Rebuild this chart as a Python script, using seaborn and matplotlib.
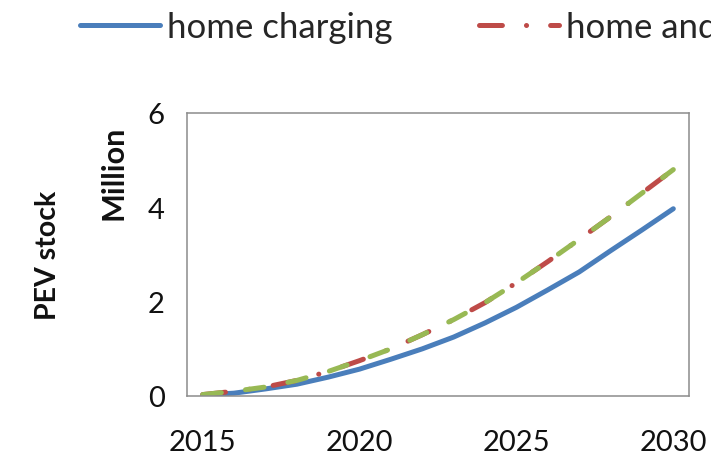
import matplotlib
matplotlib.use("Agg")
import matplotlib.pyplot as plt
import seaborn as sns
import pandas as pd

years = list(range(2015, 2031))
home = [0.02, 0.06, 0.15, 0.25, 0.40, 0.57, 0.78, 1.00, 1.25, 1.55, 1.88, 2.25, 2.63, 3.08, 3.52, 3.97]
home_work = [0.03, 0.10, 0.19, 0.33, 0.52, 0.75, 1.00, 1.30, 1.62, 1.98, 2.40, 2.85, 3.32, 3.80, 4.30, 4.80]
home_work_public = [0.03, 0.10, 0.19, 0.33, 0.52, 0.75, 1.00, 1.30, 1.62, 1.98, 2.40, 2.85, 3.32, 3.80, 4.30, 4.80]
labels = ["home charging", "home and work charging", "home, work and public charging"]
colors = ["#4A7EBB", "#BE4B48", "#98B954"]
yticks = [0, 2, 4, 6]
xticks = [2015, 2020, 2025, 2030]

sns.set_theme(style="white")
plt.rcParams["font.family"] = ["Lato", "DejaVu Sans"]
plt.rcParams["lines.scale_dashes"] = False

fig = plt.figure(figsize=(7.11, 4.56), dpi=100)
ax = fig.add_axes([187 / 711, 59 / 456, 502 / 711, 283 / 456])

df = pd.DataFrame({"year": years, labels[0]: home, labels[1]: home_work, labels[2]: home_work_public})
dashes = [None, (0, (16.5, 17.3, 0.1, 17.3)), (0, (13.5, 17.5))]
for name, col, ds in zip(labels, colors, dashes):
    sns.lineplot(data=df, x="year", y=name, ax=ax, color=col, lw=3.6, label=name,
                 solid_capstyle="round", dash_capstyle="round")
    line = ax.get_lines()[-1]
    if ds is not None:
        line.set_linestyle(ds)

ax.set_xlim(2014.5, 2030.5)
ax.set_ylim(0, 6)
ax.set_xticks(xticks)
ax.set_yticks(yticks)
ax.set_xticklabels([str(x) for x in xticks])
ax.set_yticklabels([str(y) for y in yticks])
ax.tick_params(axis="both", length=0, labelsize=21, colors="#111111")
ax.tick_params(axis="x", pad=24)
ax.tick_params(axis="y", pad=16)
ax.set_xlabel("")
ax.set_ylabel("")
for s in ax.spines.values():
    s.set_color("#8C8C8C")
    s.set_linewidth(1.1)
ax.grid(False)

handles, labs = ax.get_legend_handles_labels()
ax.get_legend().remove()
# only the first two legend entries are visible in the reference (the rest lies past the edge)
fig.legend(handles[:2], labs[:2], loc="center left", bbox_to_anchor=(80 / 711, 1 - 28 / 456),
           ncol=2, frameon=False, fontsize=25, handlelength=2.3, handletextpad=0.2,
           columnspacing=2.5, borderpad=0, borderaxespad=0)

fig.text(48 / 711, 1 - 255 / 456, "PEV stock", rotation=90, ha="center", va="center",
         fontsize=20.5, fontweight="bold", color="#111111")
fig.text(113 / 711, 1 - 173 / 456, "Million", rotation=90, ha="center", va="center",
         fontsize=22, fontweight="bold", color="#111111")

fig.savefig("out.png", dpi=100)
